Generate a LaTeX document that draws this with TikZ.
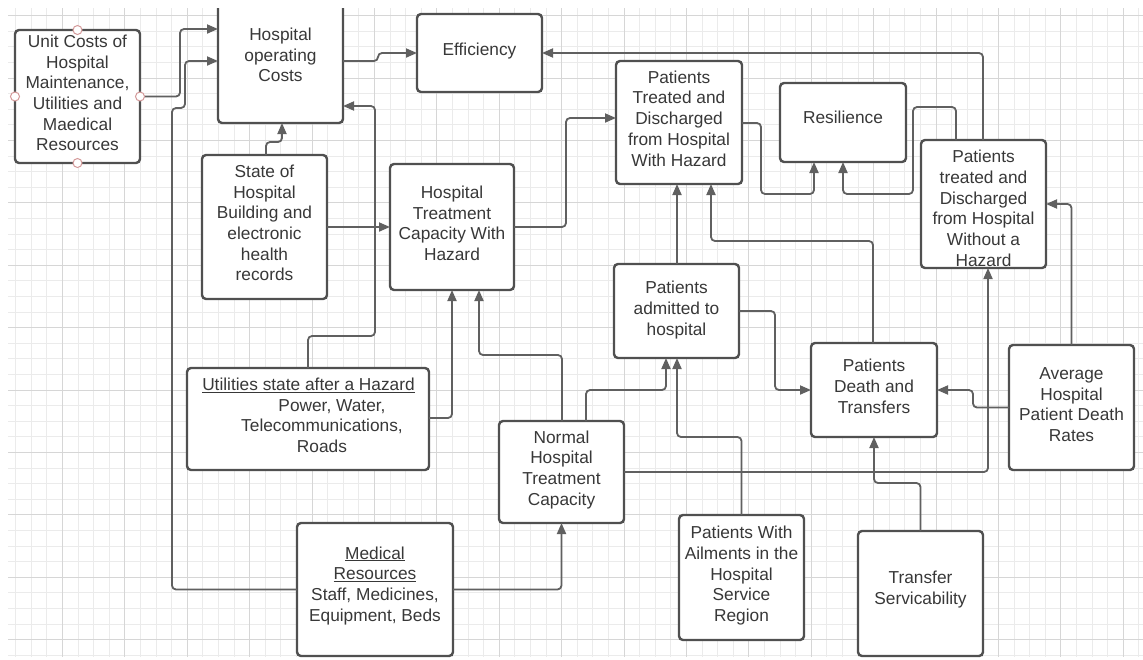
\documentclass[tikz,border=0pt]{standalone}
\usepackage{fontspec}
\setmainfont{Liberation Sans}
\usetikzlibrary{arrows.meta}
\definecolor{boxc}{HTML}{505050}
\definecolor{linec}{HTML}{606060}
\definecolor{txtc}{HTML}{383838}
\definecolor{gridminor}{HTML}{EBEBEB}
\definecolor{gridmajor}{HTML}{D6D6D6}
\definecolor{handlec}{HTML}{D49A9A}
\begin{document}
\begin{tikzpicture}[x=1pt,y=-1pt,
  box/.style={draw=boxc, line width=2.4pt, rounded corners=4pt, fill=white, inner sep=0pt, outer sep=0pt, rectangle},
  txt/.style={align=center, text=txtc, font=\fontsize{17.3}{20.7}\selectfont, inner sep=0pt},
  conn/.style={draw=linec, line width=1.8pt, rounded corners=4pt, -{Triangle[length=11pt,width=9pt]}},
  handle/.style={circle, draw=handlec, fill=white, line width=1pt, minimum size=9pt, inner sep=0pt}]
\useasboundingbox[fill=white] (0,0) rectangle (1143,659);
\begin{scope}
\clip (8,8) rectangle (1143,657);
% grid
\foreach \k in {1,...,73} {\draw[gridminor, line width=0.7pt] (15.6*\k,8) -- (15.6*\k,657);}
\foreach \k in {1,...,42} {\draw[gridminor, line width=0.7pt] (8,15.6*\k) -- (1143,15.6*\k);}
\foreach \k in {4,8,...,72} {\draw[gridmajor, line width=0.9pt] (15.6*\k,8) -- (15.6*\k,657);}
\foreach \k in {1,5,...,41} {\draw[gridmajor, line width=0.9pt] (8,15.6*\k) -- (1143,15.6*\k);}
% boxes
\node[box, minimum width=125pt, minimum height=133pt] (uc)  at (77.5,96.5) {};
\node[box, minimum width=125pt, minimum height=132pt] (hoc) at (280.5,57) {};
\node[box, minimum width=125pt, minimum height=78pt]  (eff) at (479.5,53) {};
\node[box, minimum width=126pt, minimum height=123pt] (ptd) at (679,122.5) {};
\node[box, minimum width=126pt, minimum height=79pt]  (res) at (843,122.5) {};
\node[box, minimum width=125pt, minimum height=128pt] (ptw) at (983.5,204) {};
\node[box, minimum width=125pt, minimum height=144pt] (soh) at (264.5,227) {};
\node[box, minimum width=124pt, minimum height=126pt] (htc) at (452,227) {};
\node[box, minimum width=242pt, minimum height=102pt] (uti) at (308,419) {};
\node[box, minimum width=125pt, minimum height=102pt] (nhc) at (561.5,472) {};
\node[box, minimum width=125pt, minimum height=94pt]  (adm) at (676.5,311) {};
\node[box, minimum width=126pt, minimum height=94pt]  (pdt) at (874,390) {};
\node[box, minimum width=125pt, minimum height=125pt] (avg) at (1071.5,407.5) {};
\node[box, minimum width=156pt, minimum height=133pt] (mr)  at (375,589.5) {};
\node[box, minimum width=125pt, minimum height=125pt] (pwa) at (741.5,577.5) {};
\node[box, minimum width=125pt, minimum height=125pt] (tsv) at (920.5,593.5) {};
% connectors
\draw[conn] (uc.east) -| (180,29) -- (hoc.west |- 0,29);
\draw[conn] (mr.west) -| (172,108) -| (185,61) -- (hoc.west |- 0,61);
\draw[conn] (hoc.east |- 0,61) -- (378,61) -- (378,53) -- (eff.west);
\draw[conn] (soh.north -| 266,0) -- (266,142) -| (hoc.south -| 282,0);
\draw[conn] (uti.north -| 308,0) -- (308,336) -- (375,336) -- (375,106) -- (hoc.east |- 0,106);
\draw[conn] (soh.east) -- (htc.west);
\draw[conn] (uti.east |- 0,418) -| (htc.south -| 452,0);
\draw[conn] (nhc.north -| 562,0) -- (562,355) -| (htc.south -| 479,0);
\draw[conn] (htc.east) -| (566,118) -- (ptd.west |- 0,118);
\draw[conn] (ptd.east |- 0,123) -| (761,194) -| (res.south -| 814,0);
\draw[conn] (ptw.north -| 956,0) -- (956,107) -| (913,194) -| (res.south -| 843,0);
\draw[conn] (ptw.north -| 983,0) |- (eff.east);
\draw[conn] (adm.north -| 677,0) -- (ptd.south -| 677,0);
\draw[conn] (pdt.north -| 873,0) -- (873,241) -| (ptd.south -| 711,0);
\draw[conn] (nhc.north -| 586,0) -- (586,390) -| (adm.south -| 666,0);
\draw[conn] (pwa.north) -- (741.5,437) -| (adm.south -| 677,0);
\draw[conn] (adm.east) -| (775,390) -- (pdt.west);
\draw[conn] (avg.west) -| (973,390) -- (pdt.east);
\draw[conn] (avg.north) |- (ptw.east);
\draw[conn] (nhc.east) -| (ptw.south -| 988,0);
\draw[conn] (tsv.north) -- (920.5,483) -| (pdt.south);
\draw[conn] (mr.east) -| (nhc.south);
% texts
\node[txt] (tuc) at (77.5,95) {\strut Unit Costs of\\Hospital\\Maintenance,\\Utilities and\\Maedical\\Resources\strut};
\node[txt] (thoc) at (280.5,57) {\strut Hospital\\operating\\Costs\strut};
\node[txt] (teff) at (479.5,51) {\strut Efficiency\strut};
\node[txt] (tptd) at (679,120.5) {\strut Patients\\Treated and\\Discharged\\from Hospital\\With Hazard\strut};
\node[txt] (tres) at (843,119.5) {\strut Resilience\strut};
\node[txt] (tptw) at (983.5,210.5) {\strut Patients\\treated and\\Discharged\\from Hospital\\Without a\\Hazard\strut};
\node[txt] (tsoh) at (264.5,225) {\strut State of\\Hospital\\Building and\\electronic\\health\\records\strut};
\node[txt] (thtc) at (452,225.5) {\strut Hospital\\Treatment\\Capacity With\\Hazard\strut};
\node[txt] (tuti) at (308.5,417.5) {\strut\underline{Utilities state after a Hazard}\\\hspace*{47pt}Power, Water,\\\hspace*{27pt}Telecommunications,\\\hspace*{27pt}Roads\strut};
\node[txt] (tnhc) at (561.5,470) {\strut Normal\\Hospital\\Treatment\\Capacity\strut};
\node[txt] (tadm) at (676.5,310.5) {\strut Patients\\admitted to\\hospital\strut};
\node[txt] (tpdt) at (874,388.5) {\strut Patients\\Death and\\Transfers\strut};
\node[txt] (tavg) at (1071.5,406.5) {\strut Average\\Hospital\\Patient Death\\Rates\strut};
\node[txt] (tmr) at (375,586) {\strut\underline{Medical}\\\underline{Resources}\\Staff, Medicines,\\Equipment, Beds\strut};
\node[txt] (tpwa) at (741.5,576) {\strut Patients With\\Ailments in the\\Hospital\\Service\\Region\strut};
\node[txt] (ttsv) at (920.5,590) {\strut Transfer\\Servicability\strut};
% handles
\node[handle] (h1) at (uc.north) {};
\node[handle] (h2) at (uc.west) {};
\node[handle] (h3) at (uc.east) {};
\node[handle] (h4) at (uc.south) {};
\end{scope}
\end{tikzpicture}
\end{document}
